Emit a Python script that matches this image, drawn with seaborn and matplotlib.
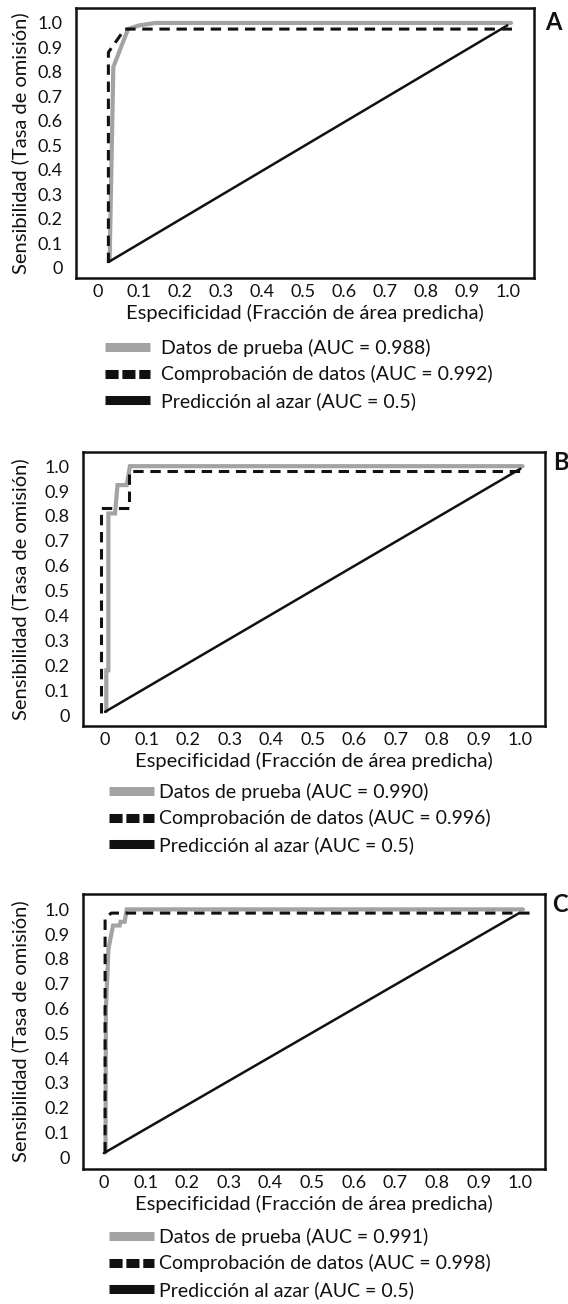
import seaborn as sns
import matplotlib.pyplot as plt
from matplotlib.lines import Line2D

# ---- data (x = especificidad, y = sensibilidad) ----
# Panel A
a_test_x = [0.028, 0.037, 0.073, 0.10, 0.14, 1.007]
a_test_y = [0.03, 0.82, 0.975, 0.99, 1.0, 1.0]
a_check_x = [0.025, 0.025, 0.065, 1.02]
a_check_y = [0.02, 0.88, 0.975, 0.975]
a_rand_x = [0.026, 0.998]
a_rand_y = [0.025, 0.99]
a_auc = ["0.988", "0.992", "0.5"]

# Panel B
b_test_x = [0.003, 0.003, 0.008, 0.008, 0.024, 0.030, 0.052, 0.060, 1.005]
b_test_y = [0.015, 0.18, 0.18, 0.81, 0.81, 0.924, 0.924, 1.0, 1.0]
b_check_x = [-0.009, -0.009, 0.057, 0.057, 1.0]
b_check_y = [0.01, 0.83, 0.83, 0.98, 0.98]
b_rand_x = [0.0, 1.0]
b_rand_y = [0.013, 0.99]
b_auc = ["0.990", "0.996", "0.5"]

# Panel C
c_test_x = [0.004, 0.005, 0.011, 0.022, 0.038, 0.040, 0.050, 0.055, 1.006]
c_test_y = [0.02, 0.60, 0.84, 0.935, 0.935, 0.95, 0.95, 1.0, 1.0]
c_check_x = [0.003, 0.003, 0.018, 1.022]
c_check_y = [0.02, 0.965, 0.985, 0.985]
c_rand_x = [0.0, 0.998]
c_rand_y = [0.017, 0.986]
c_auc = ["0.991", "0.998", "0.5"]

tick_vals = [0, 0.1, 0.2, 0.3, 0.4, 0.5, 0.6, 0.7, 0.8, 0.9, 1.0]
tick_labels = ["0", "0.1", "0.2", "0.3", "0.4", "0.5", "0.6", "0.7", "0.8", "0.9", "1.0"]
series_names = ["Datos de prueba", "Comprobación de datos", "Predicción al azar"]

sns.set_style("white")
plt.rcParams['font.family'] = ['Lato', 'DejaVu Sans']

W, H = 568, 1304
fig = plt.figure(figsize=(W / 100, H / 100), dpi=100)

GRAY = "#a3a3a3"
INK = "#111111"

# layout in pixels: axes box (left, top, right, bottom), limits, letter, legend anchor
panels = [
    dict(box=(76, 8, 534, 278), xlim=(-0.054, 1.063), ylim=(-0.041, 1.061),
         letter="A", letter_xy=(545, 23), leg_xy=(105, 339), textpad=0.6,
         data=(a_test_x, a_test_y, a_check_x, a_check_y, a_rand_x, a_rand_y, a_auc)),
    dict(box=(82.6, 452, 544.6, 726), xlim=(-0.054, 1.058), ylim=(-0.044, 1.057),
         letter="B", letter_xy=(553, 462), leg_xy=(109, 783), textpad=0.25,
         data=(b_test_x, b_test_y, b_check_x, b_check_y, b_rand_x, b_rand_y, b_auc)),
    dict(box=(82.6, 894, 545, 1169), xlim=(-0.051, 1.059), ylim=(-0.047, 1.062),
         letter="C", letter_xy=(552, 905), leg_xy=(109, 1228), textpad=0.25,
         data=(c_test_x, c_test_y, c_check_x, c_check_y, c_rand_x, c_rand_y, c_auc)),
]

for p in panels:
    l, t, r, b = p["box"]
    ax = fig.add_axes([l / W, 1 - b / H, (r - l) / W, (b - t) / H])
    tx, ty, cx, cy, rx, ry, auc = p["data"]

    sns.lineplot(x=tx, y=ty, ax=ax, sort=False, estimator=None,
                 color=GRAY, linewidth=3.0, solid_joinstyle="miter")
    sns.lineplot(x=rx, y=ry, ax=ax, sort=False, estimator=None,
                 color=INK, linewidth=1.8)
    sns.lineplot(x=cx, y=cy, ax=ax, sort=False, estimator=None,
                 color=INK, linewidth=2.2, linestyle=(0, (3.4, 2.2)))

    ax.set_xlim(*p["xlim"])
    ax.set_ylim(*p["ylim"])
    ax.set_xticks(tick_vals)
    ax.set_xticklabels(tick_labels)
    ax.set_yticks(tick_vals)
    ax.set_yticklabels(tick_labels)
    ax.tick_params(axis="x", direction="in", length=6.5, width=1.8, pad=4,
                   labelsize=13, colors=INK)
    ax.tick_params(axis="y", direction="out", length=6.5, width=1.8, pad=3,
                   labelsize=13, colors=INK)
    for s in ax.spines.values():
        s.set_linewidth(1.8)
        s.set_color(INK)

    ax.set_xlabel("Especificidad (Fracción de área predicha)", fontsize=14.5, color=INK)
    ax.set_ylabel("Sensibilidad (Tasa de omisión)", fontsize=14.5, color=INK)
    ax.xaxis.set_label_coords(0.5, -26 / (b - t))
    ax.yaxis.set_label_coords((29 - l) / (r - l), 0.5)

    fig.text(p["letter_xy"][0] / W, 1 - p["letter_xy"][1] / H, p["letter"],
             fontsize=17, fontweight="bold", ha="left", va="center", color=INK)

    handles = [
        Line2D([], [], color=GRAY, linewidth=6.5, solid_capstyle="butt"),
        Line2D([], [], color=INK, linewidth=6.5, linestyle=(0, (1.45, 0.42)),
               dash_capstyle="butt"),
        Line2D([], [], color=INK, linewidth=6.5, solid_capstyle="butt"),
    ]
    labels = [f"{n} (AUC = {a})" for n, a in zip(series_names, auc)]
    lx, ly = p["leg_xy"]
    ax.legend(handles, labels, loc="upper left",
              bbox_to_anchor=(lx / W, 1 - ly / H), bbox_transform=fig.transFigure,
              frameon=False, fontsize=14, handlelength=2.3,
              handletextpad=p["textpad"], labelspacing=0.43,
              borderpad=0, borderaxespad=0, labelcolor=INK)

fig.savefig("out.png", dpi=100)
